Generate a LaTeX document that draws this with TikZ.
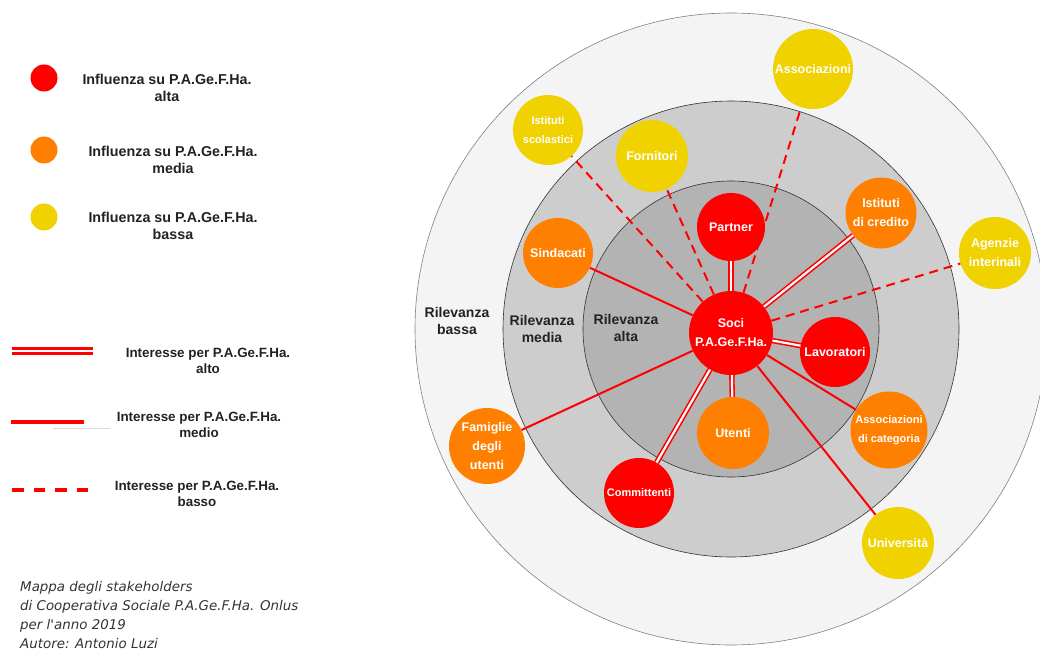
\documentclass[tikz,border=0pt]{standalone}
\usepackage{fontspec}
\setmainfont{Liberation Sans}
\newfontfamily\capfont{DejaVu Sans}
\definecolor{cred}{HTML}{FF0000}
\definecolor{corange}{HTML}{FF8000}
\definecolor{cyellow}{HTML}{F0D200}
\definecolor{ringA}{HTML}{F4F4F4}
\definecolor{ringB}{HTML}{CDCDCD}
\definecolor{ringC}{HTML}{B3B3B3}
\definecolor{txt}{HTML}{222222}
\tikzset{
  stake/.style={circle, inner sep=0pt, text=white, align=center, font=\bfseries\fontsize{12.5}{19}\selectfont},
  hiR/.style={stake, fill=cred},
  hiO/.style={stake, fill=corange},
  hiY/.style={stake, fill=cyellow},
  small/.style={font=\bfseries\fontsize{11}{19}\selectfont},
  lnalto/.style={draw=cred, line width=1.6pt, double=white, double distance=2.2pt},
  lnmedio/.style={draw=cred, line width=2pt},
  lnbasso/.style={draw=cred, line width=2pt, dash pattern=on 9pt off 6pt},
  legtxt/.style={align=center, text=txt, font=\bfseries\fontsize{14.3}{17}\selectfont},
  inttxt/.style={align=center, text=txt, font=\bfseries\fontsize{13.4}{16.5}\selectfont},
  ringtxt/.style={align=center, text=txt, font=\bfseries\fontsize{14}{17.5}\selectfont},
}
\begin{document}
\begin{tikzpicture}[x=1pt,y=-1pt]
\useasboundingbox (0,0) rectangle (1040,652);
% rings
\coordinate (c) at (731,329);
\fill[ringA, draw=gray, line width=0.6pt] (c) circle[radius=316];
\fill[ringB, draw=black!80, line width=0.6pt] (c) circle[radius=228];
\fill[ringC, draw=black!80, line width=0.6pt] (c) circle[radius=148];
\node[ringtxt] (rb) at (457,321) {Rilevanza\\bassa};
\node[ringtxt] (rm) at (542,329) {Rilevanza\\media};
\node[ringtxt] (ra) at (626,328) {Rilevanza\\alta};
% stakeholder nodes
\node[hiR, minimum size=84] (soci) at (731,333) {Soci\\P.A.Ge.F.Ha.};
\node[hiR, minimum size=68] (partner) at (731,227) {Partner};
\node[hiR, minimum size=70] (lav) at (835,352) {Lavoratori};
\node[hiO, minimum size=72] (utenti) at (733,433) {Utenti};
\node[hiR, minimum size=70, small] (comm) at (639,493) {Committenti};
\node[hiO, minimum size=76] (fam) at (487,446) {Famiglie\\degli\\utenti};
\node[hiO, minimum size=70] (sind) at (558,253) {Sindacati};
\node[hiY, minimum size=72] (forn) at (652,156) {Fornitori};
\node[hiY, minimum size=70, small] (scol) at (548,130) {Istituti\\scolastici};
\node[hiY, minimum size=80] (assoc) at (813,69) {Associazioni};
\node[hiO, minimum size=71] (cred) at (881,213) {Istituti\\di credito};
\node[hiY, minimum size=72] (agenz) at (995,253) {Agenzie\\interinali};
\node[hiO, minimum size=77, small] (cat) at (889,430) {Associazioni\\di categoria};
\node[hiY, minimum size=72] (univ) at (898,543) {Università};
% connectors
\draw[lnalto] (soci) -- (partner);
\draw[lnalto] (soci) -- (cred);
\draw[lnalto] (soci) -- (lav);
\draw[lnalto] (soci) -- (utenti);
\draw[lnalto] (soci) -- (comm);
\draw[lnmedio] (soci) -- (cat);
\draw[lnmedio] (soci) -- (univ);
\draw[lnmedio] (soci) -- (fam);
\draw[lnmedio] (soci) -- (sind);
\draw[lnbasso] (soci) -- (scol);
\draw[lnbasso] (soci) -- (forn);
\draw[lnbasso] (soci) -- (assoc);
\draw[lnbasso] (soci) -- (agenz);
% legend: influence
\node[circle, fill=cred, minimum size=27, inner sep=0] (lr) at (44,78) {};
\node[circle, fill=corange, minimum size=27, inner sep=0] (lo) at (44,150) {};
\node[circle, fill=cyellow, minimum size=27, inner sep=0] (ly) at (44,217) {};
\node[legtxt] (tr) at (167,88) {Influenza su P.A.Ge.F.Ha.\\alta};
\node[legtxt] (to) at (173,160) {Influenza su P.A.Ge.F.Ha.\\media};
\node[legtxt] (ty) at (173,226) {Influenza su P.A.Ge.F.Ha.\\bassa};
% legend: interest
\coordinate (la1) at (12,351); \coordinate (la2) at (93,351);
\draw[draw=cred, line width=2.6pt, double=white, double distance=2pt] (la1) -- (la2);
\coordinate (lm1) at (11,422); \coordinate (lm2) at (84,422);
\draw[draw=cred, line width=3.2pt] (lm1) -- (lm2);
\coordinate (lg1) at (53,428); \coordinate (lg2) at (110,428);
\draw[draw=gray!45, line width=0.8pt, dash pattern=on 1pt off 0.6pt] (lg1) -- (lg2);
\coordinate (lb1) at (12,490); \coordinate (lb2) at (90,490);
\draw[draw=cred, line width=3.6pt, dash pattern=on 11.5pt off 10pt] (lb1) -- (lb2);
\node[inttxt] (ta) at (208,361) {Interesse per P.A.Ge.F.Ha.\\alto};
\node[inttxt] (tm) at (199,425) {Interesse per P.A.Ge.F.Ha.\\medio};
\node[inttxt] (tb) at (197,494) {Interesse per P.A.Ge.F.Ha.\\basso};
% caption
\node[anchor=north west, align=left, text=black!80, inner sep=0,
  font=\capfont\itshape\fontsize{13.4}{19}\selectfont] (cap) at (20,581)
  {Mappa degli stakeholders\\di Cooperativa Sociale P.A.Ge.F.Ha. Onlus\\per l'anno 2019\\Autore: Antonio Luzi};
\end{tikzpicture}
\end{document}
